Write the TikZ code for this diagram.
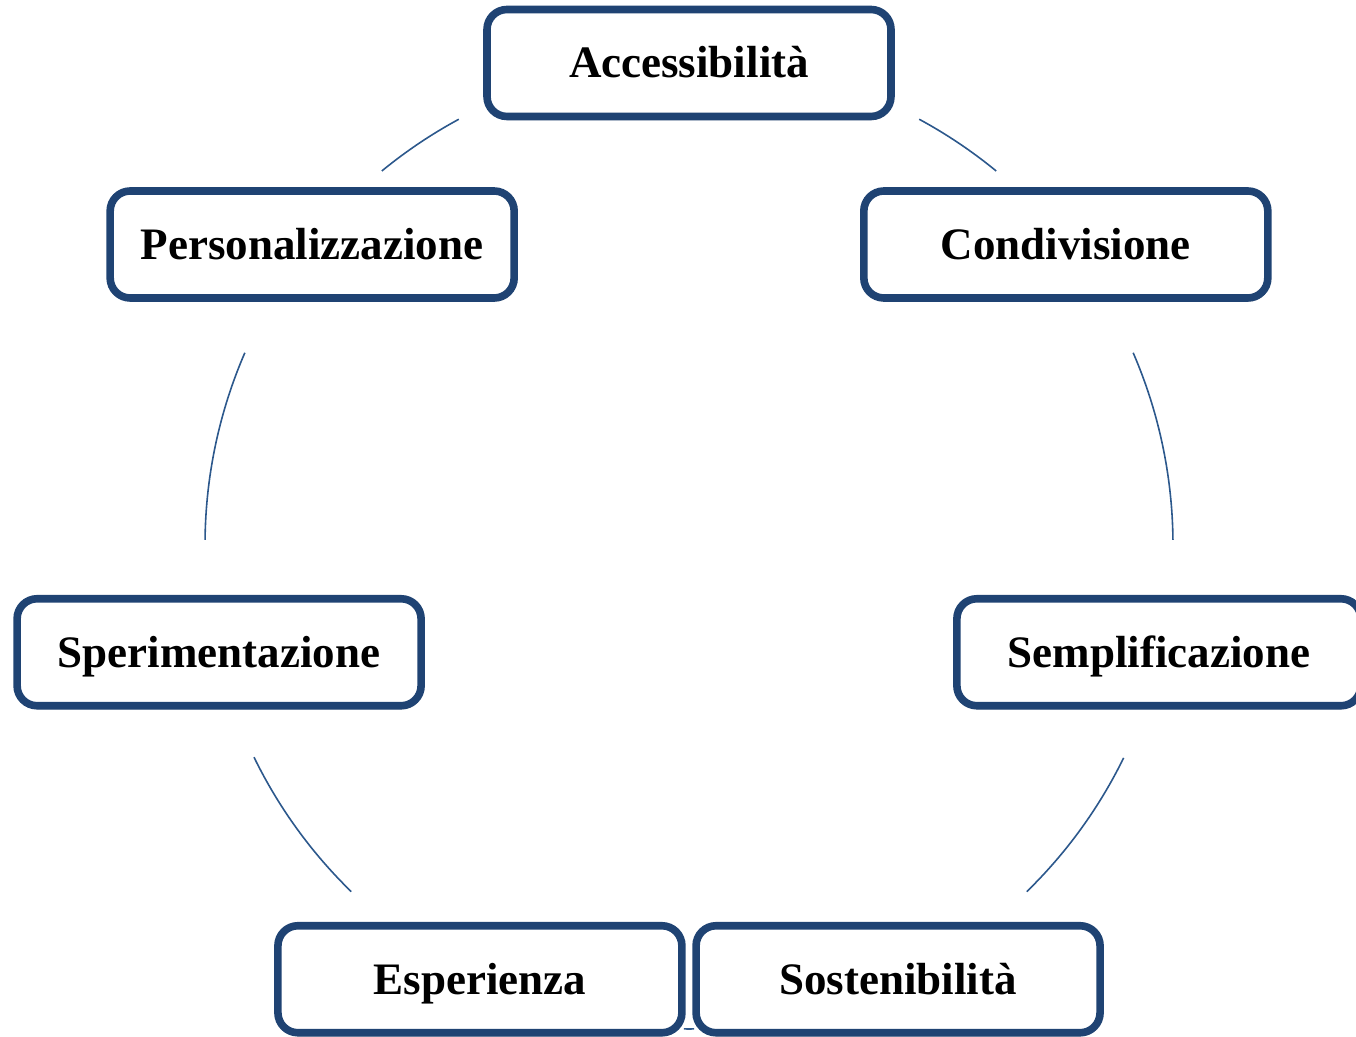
\documentclass[tikz,border=0pt]{standalone}
\usepackage{fontspec}
\setmainfont{Liberation Serif}
\usetikzlibrary{shadows}
\definecolor{boxblue}{RGB}{31,67,115}
\definecolor{ringblue}{RGB}{44,88,140}

\begin{document}
\begin{tikzpicture}[x=0.5pt,y=0.5pt]
\tikzstyle{Value} = [rectangle, draw=boxblue, line width=3.8pt, fill=white, rounded corners=10pt, minimum width=202pt, minimum height=53.5pt, inner sep=0pt, text height=16pt, text depth=1pt, font=\fontsize{22.5}{27}\selectfont\bfseries, drop shadow={shadow xshift=0.6pt, shadow yshift=-1.8pt, fill=black, opacity=0.25}]
\tikzstyle{Ring} = [draw=ringblue, line width=0.8pt]
\useasboundingbox (0,0) rectangle (1356,1037);
\coordinate (ring) at (689,492);
% arcs of the cycle
\foreach \a/\b in {118.4/129.4, 61.6/50.6, 156.6/179.4, 23.4/0.6, 206.0/225.75, -26.1/-45.75, -90.6/-89.4}
  \draw[Ring] ([shift={(\a:484)}]ring) arc[start angle=\a, end angle=\b, radius=242pt];
% the seven values
\node[Value] (AC) at ([shift={(90:482)}]ring) {Accessibilità};
\node[Value] (CO) at ([shift={(38.57:482)}]ring) {Condivisione};
\node[Value] (SE) at ([shift={(-12.86:482)}]ring) {Semplificazione};
\node[Value] (SO) at ([shift={(-64.29:482)}]ring) {Sostenibilità};
\node[Value] (ES) at ([shift={(-115.71:482)}]ring) {Esperienza};
\node[Value] (SP) at ([shift={(-167.14:482)}]ring) {Sperimentazione};
\node[Value] (PE) at ([shift={(141.43:482)}]ring) {Personalizzazione};
\end{tikzpicture}
\end{document}
